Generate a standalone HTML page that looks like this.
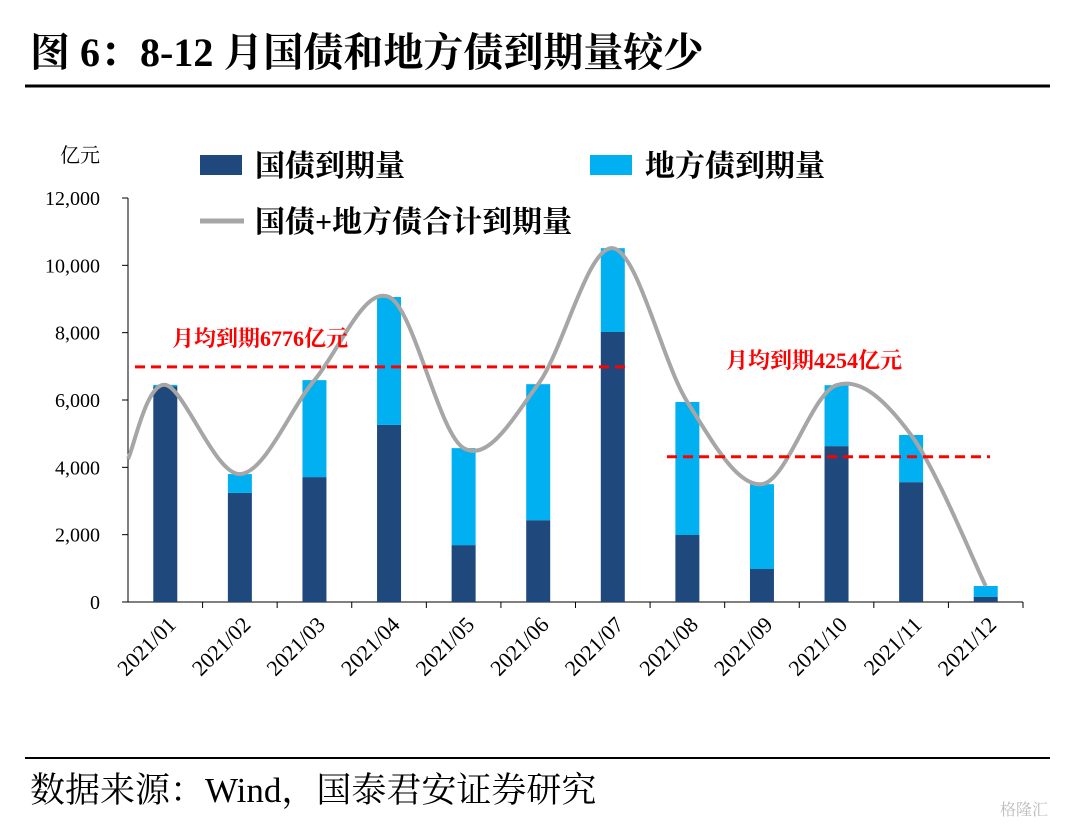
<!DOCTYPE html>
<html><head><meta charset="utf-8">
<style>
body{margin:0;background:#fff;}
svg text{font-family:"Liberation Serif","Noto Serif CJK SC",serif;}
</style></head>
<body>
<svg id="c" width="1080" height="831" viewBox="0 0 1080 831" xmlns="http://www.w3.org/2000/svg">
<text x="30" y="66" font-size="40" font-weight="bold">图 6：8-12 月国债和地方债到期量较少</text>
<line x1="25" y1="86" x2="1050" y2="86" stroke="#000" stroke-width="3"/>
<line x1="25" y1="758" x2="1050" y2="758" stroke="#000" stroke-width="2"/>
<text x="30" y="802" font-size="35">数据来源：Wind，国泰君安证券研究</text>
<text x="1000" y="815" font-size="16" fill="#bbb">格隆汇</text>
<text x="60" y="162" font-size="20">亿元</text>
<rect x="200" y="155" width="42" height="20" fill="#1F497D"/>
<text x="255" y="176" font-size="30" font-weight="bold">国债到期量</text>
<rect x="590" y="155" width="42" height="20" fill="#00B0F0"/>
<text x="645" y="176" font-size="30" font-weight="bold">地方债到期量</text>
<line x1="200" y1="221" x2="244" y2="221" stroke="#A6A6A6" stroke-width="5"/>
<text x="255" y="232" font-size="30" font-weight="bold">国债+地方债合计到期量</text>
<g id="plot"></g>
</svg>
<script>
const categories=["2021/01","2021/02","2021/03","2021/04","2021/05","2021/06","2021/07","2021/08","2021/09","2021/10","2021/11","2021/12"];
const nationalDebt=[6400,3240,3710,5260,1690,2430,8020,1990,980,4630,3560,150];
const localDebt=[50,560,2880,3800,2880,4040,2490,3950,2520,1810,1400,325];
const yTicks=[0,2000,4000,6000,8000,10000,12000];
const lineStartValue=4250;
const avgH1=6776, avgH2=4254;
const avgLabels=["月均到期6776亿元","月均到期4254亿元"];

const NS="http://www.w3.org/2000/svg";
const g=document.getElementById('plot');
const X0=128,X1=1023,Y0=602,Y1=198,YMAX=12000;
const band=(X1-X0)/categories.length;
const xc=i=>X0+band*(i+0.5);
const y=v=>Y0-(v/YMAX)*(Y0-Y1);
function mk(t,a){const e=document.createElementNS(NS,t);for(const k in a)e.setAttribute(k,a[k]);g.appendChild(e);return e;}

yTicks.forEach(v=>{
  const t=mk('text',{x:100,y:y(v)+7,'font-size':20,'text-anchor':'end'});
  t.textContent=v.toLocaleString('en-US');
  
  
  const l=mk('line',{x1:122,x2:128,y1:y(v),y2:y(v),stroke:'#000'});
  
  
});
const ya=mk('line',{x1:128,x2:128,y1:Y1,y2:Y0,stroke:'#000'});


const xa=mk('line',{x1:X0,x2:X1,y1:Y0,y2:Y0,stroke:'#000'});



const bw=24;
categories.forEach((c,i)=>{
  const cx=xc(i);
  const b1=mk('rect',{x:cx-bw/2,y:y(nationalDebt[i]),width:bw,height:Y0-y(nationalDebt[i]),fill:'#1F497D'});
  
  
  const tot=nationalDebt[i]+localDebt[i];
  const b2=mk('rect',{x:cx-bw/2,y:y(tot),width:bw,height:y(nationalDebt[i])-y(tot),fill:'#00B0F0'});
  
  
  const tk=mk('line',{x1:X0+band*(i+1),x2:X0+band*(i+1),y1:Y0,y2:Y0+6,stroke:'#000'});
  
  
  const t=mk('text',{x:0,y:0,'font-size':22,'text-anchor':'end',transform:`translate(${cx+12},${Y0+24}) rotate(-45)`});
  t.textContent=c;
  
  
});

const pts=categories.map((c,i)=>[xc(i),y(nationalDebt[i]+localDebt[i])]);
const all=[[X0,y(lineStartValue)],...pts];
let d=`M${all[0][0]},${all[0][1]}`;
for(let i=0;i<all.length-1;i++){
  const a=all[Math.max(0,i-1)],b=all[i],c2=all[i+1],e=all[Math.min(all.length-1,i+2)];
  const c1x=b[0]+(c2[0]-a[0])/6,c1y=b[1]+(c2[1]-a[1])/6;
  const c3x=c2[0]-(e[0]-b[0])/6,c3y=c2[1]-(e[1]-b[1])/6;
  d+=` C${c1x},${c1y} ${c3x},${c3y} ${c2[0]},${c2[1]}`;
}
const ln=mk('path',{d:d,fill:'none',stroke:'#A6A6A6','stroke-width':4});



const a1=mk('line',{x1:135,x2:625,y1:y(avgH1)-7,y2:y(avgH1)-7,stroke:'#FF0000','stroke-width':3,'stroke-dasharray':'10,6'});


const a2=mk('line',{x1:667,x2:990,y1:y(avgH2)-2,y2:y(avgH2)-2,stroke:'#FF0000','stroke-width':3,'stroke-dasharray':'10,6'});


const t1=mk('text',{x:172,y:346,'font-size':22,'font-weight':'bold',fill:'#FF0000'});
t1.textContent=avgLabels[0];


const t2=mk('text',{x:726,y:368,'font-size':22,'font-weight':'bold',fill:'#FF0000'});
t2.textContent=avgLabels[1];


</script>
</body></html>
